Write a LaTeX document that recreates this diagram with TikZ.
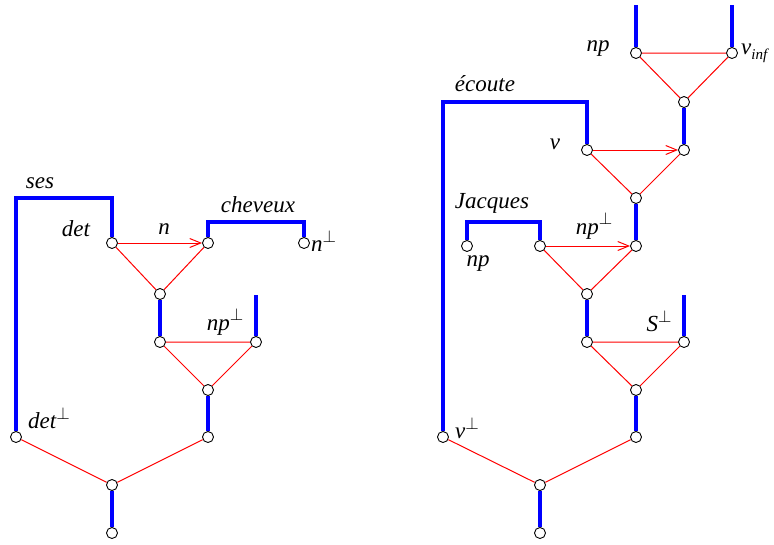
\documentclass[tikz,border=0pt]{standalone}
\usepackage{fontspec}
\setmainfont{Liberation Serif}
\usetikzlibrary{arrows.meta}

% superscript perp and small subscript, sized for the 23pt labels
\newcommand{\dual}{\raisebox{0.42em}{\fontsize{19}{19}\selectfont$\perp$}}
\newcommand{\lowidx}[1]{\raisebox{-0.22em}{\fontsize{15}{15}\selectfont #1}}

\begin{document}
\begin{tikzpicture}[x=1pt, y=-1pt,
        dot/.style={circle, draw=black, fill=white, line width=0.9pt, inner sep=0pt, minimum size=11pt},
        wire/.style={line width=4pt, blue, line join=miter},
        link/.style={line width=1pt, red},
        axiom/.style={link, -{Straight Barb[length=11pt, width=9pt, line width=1pt]}},
        word/.style={font=\fontsize{23}{27}\selectfont\itshape, inner sep=0pt}
    ]
        \useasboundingbox (0,0) rectangle (774,544);

        % Left proof net: ses cheveux
        \node[dot] (ldet) at (112,243) {};
        \node[dot] (ln) at (208,243) {};
        \node[dot] (lnp) at (304,243) {};
        \node[dot] (lpar) at (160,294) {};
        \node[dot] (lmid) at (160,342) {};
        \node[dot] (lnpp) at (256,342) {};
        \node[dot] (ltens) at (208,390) {};
        \node[dot] (lout) at (208,437) {};
        \node[dot] (ldetp) at (16,437) {};
        \node[dot] (lroot) at (112,485) {};
        \node[dot] (lconc) at (112,533) {};
        \coordinate (lses) at (16,198);
        \coordinate (lchev) at (208,222);
        \coordinate (lnptop) at (256,295);

        \draw[wire] (ldetp) -- (lses) -| (ldet);
        \draw[wire] (ln) -- (lchev) -| (lnp);
        \draw[wire] (lpar) -- (lmid);
        \draw[wire] (lnpp) -- (lnptop);
        \draw[wire] (ltens) -- (lout);
        \draw[wire] (lroot) -- (lconc);

        \draw[axiom] (ldet) -- (ln);
        \draw[link] (ldet) -- (lpar) -- (ln);
        \draw[link] (lmid) -- (lnpp) -- (ltens) -- (lmid);
        \draw[link] (ldetp) -- (lroot) -- (lout);

        \node[word] (tses) at (40,183) {ses};
        \node[word] (tdet) at (76,229) {det};
        \node[word] (tn) at (164,229) {n};
        \node[word] (tchev) at (258,205) {cheveux};
        \node[word, anchor=west] (tnp) at (311,241) {n\dual};
        \node[word] (tnpp) at (225,322) {np\dual};
        \node[word] (tdetp) at (49,418) {det\dual};

        % Right proof net: Jacques ecoute
        \node[dot] (rnp) at (636,53) {};
        \node[dot] (rvinf) at (732,53) {};
        \node[dot] (rtop) at (684,102) {};
        \node[dot] (rvin) at (684,150) {};
        \node[dot] (rv) at (587,150) {};
        \node[dot] (rpar) at (636,198) {};
        \node[dot] (rnpin) at (636,246) {};
        \node[dot] (rjnp) at (467,246) {};
        \node[dot] (rjac) at (540,246) {};
        \node[dot] (rmid) at (587,294) {};
        \node[dot] (rs) at (587,342) {};
        \node[dot] (rsp) at (684,342) {};
        \node[dot] (rtens) at (636,390) {};
        \node[dot] (rout) at (636,437) {};
        \node[dot] (rvp) at (443,437) {};
        \node[dot] (rroot) at (540,485) {};
        \node[dot] (rconc) at (540,533) {};
        \coordinate (rnptop) at (636,5);
        \coordinate (rvinftop) at (732,5);
        \coordinate (recoute) at (443,102);
        \coordinate (rjacques) at (467,222);
        \coordinate (rsptop) at (684,295);

        \draw[wire] (rnp) -- (rnptop);
        \draw[wire] (rvinf) -- (rvinftop);
        \draw[wire] (rtop) -- (rvin);
        \draw[wire] (rvp) -- (recoute) -| (rv);
        \draw[wire] (rpar) -- (rnpin);
        \draw[wire] (rjnp) -- (rjacques) -| (rjac);
        \draw[wire] (rmid) -- (rs);
        \draw[wire] (rsp) -- (rsptop);
        \draw[wire] (rtens) -- (rout);
        \draw[wire] (rroot) -- (rconc);

        \draw[link] (rnp) -- (rvinf) -- (rtop) -- (rnp);
        \draw[axiom] (rv) -- (rvin);
        \draw[link] (rv) -- (rpar) -- (rvin);
        \draw[axiom] (rjac) -- (rnpin);
        \draw[link] (rjac) -- (rmid) -- (rnpin);
        \draw[link] (rs) -- (rsp) -- (rtens) -- (rs);
        \draw[link] (rvp) -- (rroot) -- (rout);

        \node[word] (tnp2) at (598,49) {np};
        \node[word, anchor=west] (tvinf) at (741,53) {v\lowidx{inf}};
        \node[word] (tecoute) at (485,84) {écoute};
        \node[word] (tv) at (555,144) {v};
        \node[word] (tjac) at (492,203) {Jacques};
        \node[word] (tjnp) at (478,264) {np};
        \node[word] (tnpp2) at (594,226) {np\dual};
        \node[word] (tsp) at (659,321) {S\dual};
        \node[word] (tvp) at (467,428) {v\dual};
    \end{tikzpicture}
\end{document}
